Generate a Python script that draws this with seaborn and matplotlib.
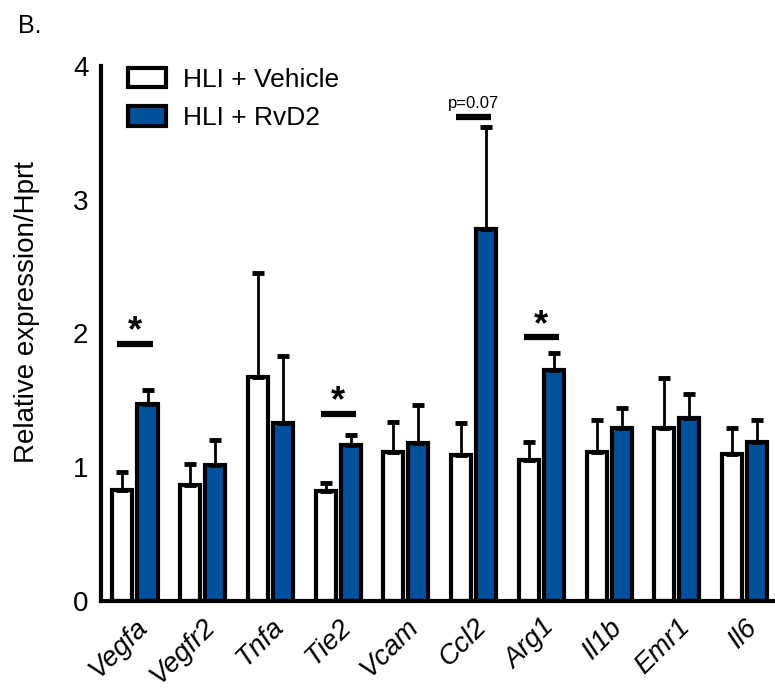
import numpy as np
import pandas as pd
import matplotlib
matplotlib.use('Agg')
import matplotlib.pyplot as plt
import seaborn as sns

# Data
genes = ['Vegfa', 'Vegfr2', 'Tnfa', 'Tie2', 'Vcam', 'Ccl2', 'Arg1', 'Il1b', 'Emr1', 'Il6']
groups = ['HLI + Vehicle', 'HLI + RvD2']
vehicle_mean = [0.83, 0.865, 1.67, 0.823, 1.11, 1.09, 1.05, 1.11, 1.29, 1.095]
vehicle_sem = [0.135, 0.155, 0.78, 0.055, 0.23, 0.24, 0.14, 0.24, 0.375, 0.20]
rvd2_mean = [1.475, 1.015, 1.33, 1.165, 1.18, 2.78, 1.725, 1.295, 1.37, 1.185]
rvd2_sem = [0.10, 0.19, 0.50, 0.075, 0.285, 0.765, 0.13, 0.145, 0.18, 0.17]

# significance marks: gene, bar height, label
sig_genes = ['Vegfa', 'Tie2', 'Ccl2', 'Arg1']
sig_y = [1.92, 1.40, 3.62, 1.97]
sig_labels = ['*', '*', 'p=0.07', '*']

BLUE = '#00509E'

df = pd.DataFrame({
    'gene': genes * 2,
    'group': [groups[0]] * len(genes) + [groups[1]] * len(genes),
    'value': vehicle_mean + rvd2_mean,
})

sns.set_style('white')
plt.rcParams['font.family'] = ['Liberation Sans', 'DejaVu Sans']
plt.rcParams['text.color'] = 'black'
plt.rcParams['axes.labelcolor'] = 'black'
plt.rcParams['xtick.color'] = 'black'
plt.rcParams['ytick.color'] = 'black'

fig = plt.figure(figsize=(7.75, 6.9), dpi=100)
ax = fig.add_axes([0.1303, 0.1294, 0.8697, 0.7749])

sns.barplot(data=df, x='gene', y='value', hue='group', order=genes, hue_order=groups,
            palette=['white', BLUE], saturation=1, edgecolor='black', linewidth=3,
            width=0.74, gap=0.2, errorbar=None, ax=ax)

# one-sided error bars on top of each bar
for cont, means, errs in zip(ax.containers, [vehicle_mean, rvd2_mean], [vehicle_sem, rvd2_sem]):
    xs = [p.get_x() + p.get_width() / 2 for p in cont.patches]
    ax.errorbar(xs, means, yerr=[np.zeros(len(errs)), errs], fmt='none', ecolor='black',
                elinewidth=2, capsize=4, capthick=3.5, zorder=1)

# significance lines and labels
for g, y, lab in zip(sig_genes, sig_y, sig_labels):
    i = genes.index(g)
    ax.plot([i - 0.26, i + 0.26], [y, y], color='black', lw=4.5, solid_capstyle='butt', clip_on=False)
    if lab == '*':
        ax.text(i, y + 0.02, lab, ha='center', va='baseline', fontsize=26,
                fontweight='bold', clip_on=False)
    else:
        ax.text(i, y + 0.065, lab, ha='center', va='baseline', fontsize=12, clip_on=False)

ax.set_ylim(0, 4)
ax.set_xlim(-0.502, 9.45)
ax.set_yticks([0, 1, 2, 3, 4])
ax.set_xlabel('')
ax.set_ylabel('Relative expression/Hprt', fontsize=20)
ax.yaxis.set_label_coords(-0.09, 0.54)

for s in ['top', 'right']:
    ax.spines[s].set_visible(False)
for s in ['left', 'bottom']:
    ax.spines[s].set_linewidth(3)
    ax.spines[s].set_color('black')

ax.tick_params(axis='both', direction='out', length=6, width=3, color='black', labelsize=20)
ax.tick_params(axis='y', pad=3)
ax.set_xticks(range(len(genes)))
ax.set_xticklabels(genes, rotation=45, ha='right', rotation_mode='anchor', style='italic', fontsize=20)

ax.legend(loc='upper left', bbox_to_anchor=(0.165, 0.902), bbox_transform=fig.transFigure,
          frameon=False, fontsize=19, handlelength=1.45, handleheight=0.75,
          handletextpad=0.65, labelspacing=0.55, borderpad=0, borderaxespad=0)

fig.text(0.023, 0.962, 'B.', fontsize=18, va='center')

fig.savefig('out.png', dpi=100)
